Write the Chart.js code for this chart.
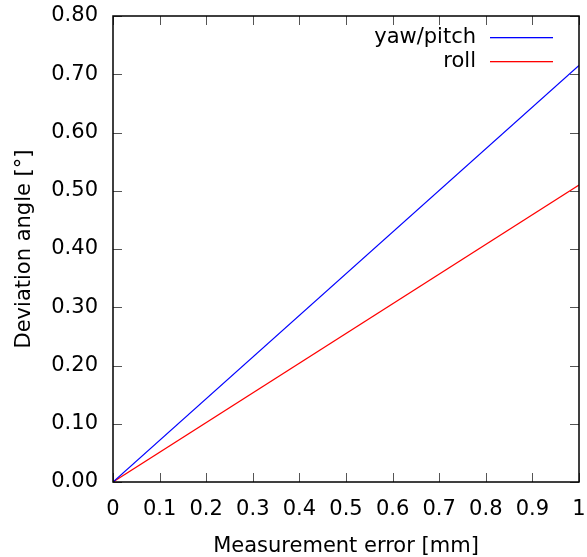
<!DOCTYPE html>
<html>
<head>
<meta charset="utf-8">
<script src="https://cdn.jsdelivr.net/npm/chart.js@4"></script>
<style>
  html, body { margin: 0; padding: 0; background: #fff; }
  #wrap { width: 587px; height: 557px; }
</style>
</head>
<body>
<div id="wrap"><canvas id="myChart" width="587" height="557"></canvas></div>
<script>
// data
const errorMm = [0, 1];
const yawPitch = [0, 0.715];
const roll = [0, 0.51];
const seriesNames = ['yaw/pitch', 'roll'];
const seriesColors = ['rgb(0, 0, 255)', 'rgb(255, 0, 0)'];
const xTicks = [0, 0.1, 0.2, 0.3, 0.4, 0.5, 0.6, 0.7, 0.8, 0.9, 1];
const yTicks = [0, 0.1, 0.2, 0.3, 0.4, 0.5, 0.6, 0.7, 0.8];

const FONT = "'DejaVu Sans', sans-serif";
const FSIZE = 21;

const toPoints = (xs, ys) => xs.map((x, i) => ({x: x, y: ys[i]}));

const frame = {
  id: 'gnuplot_frame',
  afterDatasetsDraw: (chart) => {
    const ctx = chart.ctx;
    const {top, left, right, bottom} = chart.chartArea;
    const xs = chart.scales.x, ys = chart.scales.y;
    ctx.save();
    // inward tick marks on all four sides
    ctx.strokeStyle = '#555';
    ctx.lineWidth = 1;
    ctx.beginPath();
    xTicks.forEach(v => {
      const px = Math.round(xs.getPixelForValue(v)) + 0.5;
      ctx.moveTo(px, bottom); ctx.lineTo(px, bottom - 9);
      ctx.moveTo(px, top); ctx.lineTo(px, top + 9);
    });
    yTicks.forEach(v => {
      const py = Math.round(ys.getPixelForValue(v)) + 0.5;
      ctx.moveTo(left, py); ctx.lineTo(left + 9, py);
      ctx.moveTo(right, py); ctx.lineTo(right - 9, py);
    });
    ctx.stroke();
    // border
    ctx.strokeStyle = '#000';
    ctx.lineWidth = 1.5;
    ctx.strokeRect(left, top, right - left, bottom - top);
    // key, top right
    ctx.font = FSIZE + 'px ' + FONT;
    ctx.textAlign = 'right';
    ctx.textBaseline = 'middle';
    seriesNames.forEach((name, i) => {
      const y = 38 + i * 24;
      ctx.fillStyle = '#000';
      ctx.fillText(name, 476, y);
      ctx.fillStyle = seriesColors[i];
      ctx.fillRect(490, y - 1, 63, 1.3);
    });
    ctx.restore();
  }
};

const config = {
  type: 'scatter',
  data: {
    datasets: [
      {
        label: seriesNames[0],
        data: toPoints(errorMm, yawPitch),
        showLine: true,
        borderColor: seriesColors[0],
        borderWidth: 1.2,
        pointRadius: 0
      },
      {
        label: seriesNames[1],
        data: toPoints(errorMm, roll),
        showLine: true,
        borderColor: seriesColors[1],
        borderWidth: 1.2,
        pointRadius: 0
      }
    ]
  },
  options: {
    responsive: false,
    animation: false,
    layout: { padding: { top: 16, right: 8, left: 0, bottom: 0 } },
    plugins: {
      legend: { display: false },
      tooltip: { enabled: false }
    },
    scales: {
      x: {
        type: 'linear',
        min: 0,
        max: 1,
        afterFit: (s) => { s.height = 75; s.paddingLeft = 0; s.paddingRight = 0; },
        afterBuildTicks: (s) => { s.ticks = xTicks.map(v => ({value: v})); },
        grid: { display: false, drawTicks: false },
        border: { display: false },
        ticks: {
          color: '#000',
          padding: 15,
          maxRotation: 0,
          font: { family: FONT, size: FSIZE },
          callback: (v) => String(v)
        },
        title: {
          display: true,
          text: 'Measurement error [mm]',
          color: '#000',
          padding: { top: 8, bottom: -2 },
          font: { family: FONT, size: FSIZE }
        }
      },
      y: {
        type: 'linear',
        min: 0,
        max: 0.8,
        afterFit: (s) => { s.width = 113; s.paddingTop = 0; s.paddingBottom = 0; },
        afterBuildTicks: (s) => { s.ticks = yTicks.map(v => ({value: v})); },
        grid: { display: false, drawTicks: false },
        border: { display: false },
        ticks: {
          color: '#000',
          padding: 15,
          font: { family: FONT, size: FSIZE },
          callback: (v) => v.toFixed(2)
        },
        title: {
          display: true,
          text: 'Deviation angle [°]',
          color: '#000',
          padding: { top: 12 },
          font: { family: FONT, size: FSIZE }
        }
      }
    }
  },
  plugins: [frame]
};

const myChart = new Chart(document.getElementById('myChart').getContext('2d'), config);
</script>
</body>
</html>
